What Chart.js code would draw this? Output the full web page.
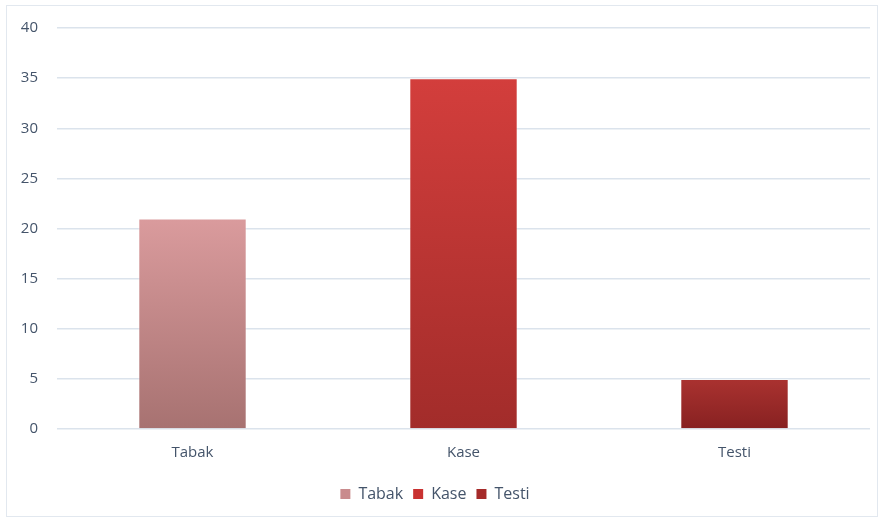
<!DOCTYPE html>
<html>
<head>
<meta charset="utf-8">
<script src="https://cdn.jsdelivr.net/npm/chart.js@4"></script>
<style>
    html, body { margin: 0; padding: 0; background: #fff; }
    #wrap { position: relative; width: 882px; height: 522px; }
    #frame {
        position: absolute; left: 6px; top: 5px; width: 872px; height: 512px;
        border: 1px solid #e2e8ef; box-sizing: border-box;
    }
    canvas { position: absolute; left: 0; top: 0; }
</style>
</head>
<body>
<div id="wrap">
    <div id="frame"></div>
    <canvas id="chart" width="882" height="522"></canvas>
</div>
<script>
// 数据
const categories = ['Tabak', 'Kase', 'Testi'];
const tabakValues = [21, null, null];
const kaseValues = [null, 35, null];
const testiValues = [null, null, 5];
const yTicks = [0, 5, 10, 15, 20, 25, 30, 35, 40];

// 颜色 (上 -> 下)
const gradients = {
    Tabak: ['#da9b9d', '#a77271'],
    Kase: ['#d33e3c', '#a22c2a'],
    Testi: ['#aa3230', '#872121']
};
const legendColors = { Tabak: '#c98b8d', Kase: '#c93231', Testi: '#a52a29' };

const textColor = '#44546a';
const font = { family: "'Open Sans', sans-serif", size: 15 };

function barFill(name) {
    return function (ctx) {
        const chart = ctx.chart;
        if (!chart.chartArea || ctx.raw == null) return gradients[name][0];
        const y = chart.scales.y;
        const top = y.getPixelForValue(ctx.raw);
        const bottom = y.getPixelForValue(0);
        const g = chart.ctx.createLinearGradient(0, top, 0, bottom);
        g.addColorStop(0, gradients[name][0]);
        g.addColorStop(1, gradients[name][1]);
        return g;
    };
}

function makeDataset(name, values) {
    return {
        label: name,
        data: values,
        backgroundColor: barFill(name),
        borderColor: 'rgba(255,255,255,0.35)',
        borderWidth: 1,
        barPercentage: 0.4,
        categoryPercentage: 1
    };
}

new Chart(document.getElementById('chart'), {
    type: 'bar',
    data: {
        labels: categories,
        datasets: [
            makeDataset('Tabak', tabakValues),
            makeDataset('Kase', kaseValues),
            makeDataset('Testi', testiValues)
        ]
    },
    options: {
        responsive: false,
        animation: false,
        grouped: false,
        layout: { padding: { left: 0, right: 12, top: 18, bottom: 10 } },
        plugins: {
            tooltip: { enabled: false },
            legend: {
                position: 'bottom',
                labels: {
                    color: textColor,
                    font: { family: font.family, size: 16 },
                    boxWidth: 10,
                    boxHeight: 10,
                    padding: 10,
                    generateLabels: chart => chart.data.datasets.map((ds, i) => ({
                        text: ds.label,
                        fillStyle: legendColors[ds.label],
                        strokeStyle: legendColors[ds.label],
                        lineWidth: 0,
                        fontColor: textColor,
                        datasetIndex: i
                    }))
                }
            }
        },
        scales: {
            x: {
                grid: { display: false },
                border: { display: false },
                ticks: { color: textColor, font: font, padding: 7 },
                afterFit: s => { s.height += 7; }
            },
            y: {
                min: 0,
                max: 40,
                afterBuildTicks: s => { s.ticks = yTicks.map(v => ({ value: v })); },
                afterFit: s => { s.width = 57; },
                grid: { color: '#dbe3ec', lineWidth: 1.5, drawTicks: false },
                border: { display: false },
                ticks: { color: textColor, font: font, padding: 19 }
            }
        }
    }
});
</script>
</body>
</html>
